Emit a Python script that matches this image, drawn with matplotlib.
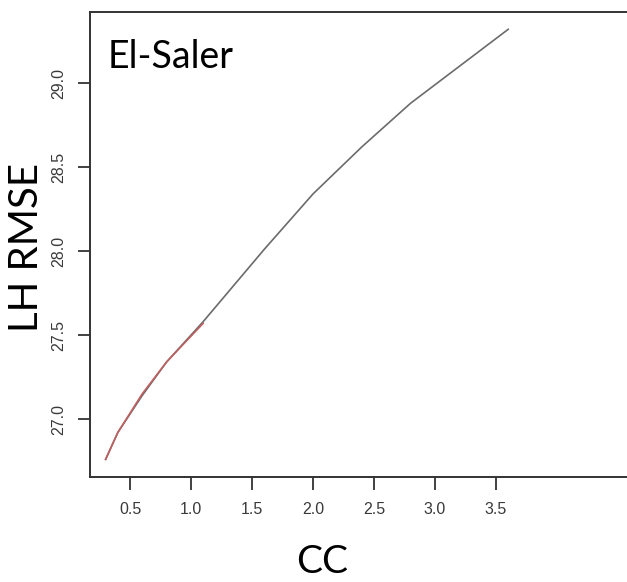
import matplotlib
matplotlib.use("Agg")
import matplotlib.pyplot as plt

# LH RMSE as a function of CC
cc = [0.3, 0.4, 0.6, 0.8, 1.1, 1.6, 2.0, 2.4, 2.8, 3.2, 3.6]
lh_rmse = [26.76, 26.92, 27.14, 27.34, 27.58, 28.01, 28.34, 28.62, 28.88, 29.10, 29.32]

# Low-CC segment highlighted in red
cc_low = [0.3, 0.4, 0.6, 0.8, 1.1]
lh_rmse_low = [26.76, 26.92, 27.15, 27.34, 27.57]

x_ticks = [0.5, 1.0, 1.5, 2.0, 2.5, 3.0, 3.5]
y_ticks = [27.0, 27.5, 28.0, 28.5, 29.0]

W, H = 627, 582
fig = plt.figure(figsize=(W / 100, H / 100), dpi=100)
left, right, top, bottom = 90, 640, 12, 477
ax = fig.add_axes([left / W, 1 - bottom / H, (right - left) / W, (bottom - top) / H])

ax.plot(cc, lh_rmse, color="#6b6b6b", lw=1.2)
ax.plot(cc_low, lh_rmse_low, color="#c06060", lw=1.2)

ax.set_xlim(0.172, 0.172 + (right - left) / 122)
ax.set_ylim(26.655, 29.423)

ax.set_xticks(x_ticks)
ax.set_xticklabels([f"{v:.1f}" for v in x_ticks])
ax.set_yticks(y_ticks)
ax.set_yticklabels([f"{v:.1f}" for v in y_ticks], rotation=90, va="center")

for s in ax.spines.values():
    s.set_color("#333333")
    s.set_linewidth(1.4)
ax.spines["right"].set_visible(False)

ax.tick_params(axis="both", length=9, width=1.3, color="#333333",
               labelsize=11.5, labelcolor="#3a3a3a")
ax.tick_params(axis="x", pad=9)
ax.tick_params(axis="y", pad=8)
for lab in ax.get_xticklabels() + ax.get_yticklabels():
    lab.set_family("Liberation Sans")

ax.text(108 / W, 1 - 68 / H, "El-Saler", transform=fig.transFigure,
        fontsize=27, family="Lato", color="black", va="baseline", ha="left")
fig.text(27 / W, 1 - 248 / H, "LH RMSE", rotation=90, fontsize=29,
         family="Lato", color="black", va="center", ha="center")
fig.text(322 / W, 1 - 562 / H, "CC", fontsize=28,
         family="Lato", color="black", va="center", ha="center")

fig.savefig("out.png", dpi=100)
